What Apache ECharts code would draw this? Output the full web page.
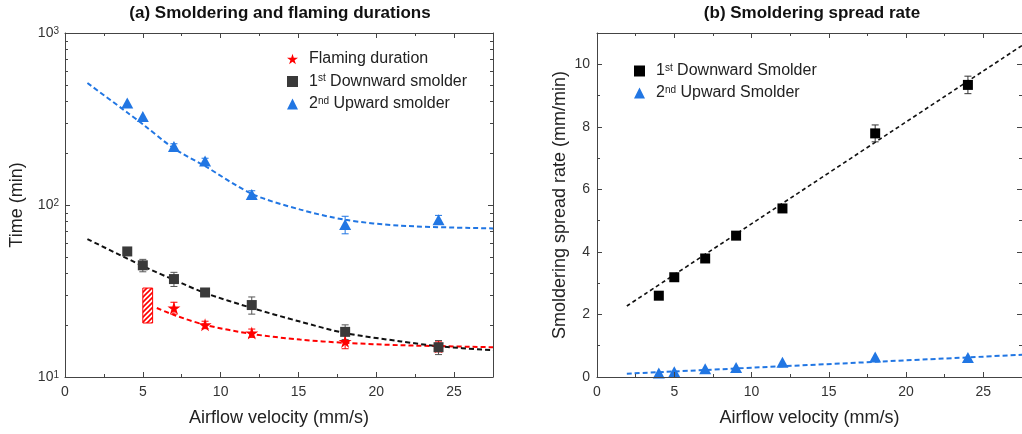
<!DOCTYPE html>
<html><head><meta charset="utf-8">
<script src="https://cdn.jsdelivr.net/npm/echarts@6/dist/echarts.min.js"></script>
<style>html,body{margin:0;padding:0;background:#fff}#c{width:1022px;height:434px}</style>
</head><body><div id="c"></div>
<script>
// ---------- data ----------
const velocity = [4, 5, 7, 9, 12, 18, 24];
const flamingX = [7, 9, 12, 18, 24];
const flamingTime = [25.2, 20.1, 18.0, 16.1, 15.0];
const flamingErr = [2.0, 1.0, 1.0, 1.5, 1.0];
const downTime = [53.7, 44.6, 37.1, 31.0, 26.2, 18.3, 14.9];
const downTimeErr = [0, 3.7, 3.5, 1.2, 3.0, 1.8, 1.4];
const upTime = [392, 327, 219, 180, 115, 77, 82];
const upTimeErr = [0, 0, 8, 7, 6, 9, 5];
const flameFitX = [5.9, 6.97, 9.0, 12.0, 15.1, 18.0, 21.6, 27.5];
const flameFitY = [25.2, 23.0, 20.1, 17.8, 16.5, 15.8, 15.3, 14.9];
const downFitX = [1.44, 5.04, 6.97, 9.0, 12.0, 15.1, 18.0, 21.6, 24, 27.5];
const downFitY = [63.4, 44, 36.8, 30.8, 25.2, 21.0, 18.0, 16.1, 15.1, 14.3];
const upFitX = [1.44, 4.0, 5.04, 6.97, 9.01, 12.02, 15.13, 18.03, 21.57, 27.5];
const upFitY = [512, 345, 293, 214, 168, 116, 94, 82, 75.8, 73.1];
const hatchBox = [5.0, 20.6, 5.63, 32.9];

const rateDown = [2.60, 3.19, 3.79, 4.52, 5.39, 7.79, 9.34];
const rateDownErr = [0.05, 0.05, 0.05, 0.05, 0.12, 0.27, 0.28];
const rateUp = [0.13, 0.17, 0.26, 0.30, 0.47, 0.64, 0.62];
const rateDownFitX = [1.93, 27.5];
const rateDownFitY = [2.27, 10.6];
const rateUpFitX = [1.93, 27.5];
const rateUpFitY = [0.105, 0.71];

const xMajor = [0, 5, 10, 15, 20, 25];
const xMinor = [2.5, 7.5, 12.5, 17.5, 22.5];
const logMajor = [10, 100, 1000];
const logMinor = [20, 30, 40, 50, 60, 70, 80, 90, 200, 300, 400, 500, 600, 700, 800, 900];
const rateMajor = [0, 2, 4, 6, 8, 10];
const rateMinor = [1, 3, 5, 7, 9];

const titleA = '(a) Smoldering and flaming durations';
const titleB = '(b) Smoldering spread rate';
const legendA = ['Flaming duration', '1st Downward smolder', '2nd Upward smolder'];
const legendB = ['1st Downward Smolder', '2nd Upward Smolder'];

// ---------- styles ----------
const BLUE = '#2176e3', RED = '#ff0000', DARK = '#3a3a3a', AX = '#444', LBL = '#333';
const FONT = "'Liberation Sans', Arial, sans-serif";
const STAR = 'path://M50,0 L61.2,34.5 L97.6,34.5 L68.2,55.9 L79.4,90.5 L50,69.1 L20.6,90.5 L31.8,55.9 L2.4,34.5 L38.8,34.5 Z';

const zip = (a, b) => a.map((v, i) => [v, b[i]]);
const errData = (xs, ys, es) => xs.map((x, i) => [x, ys[i] - es[i], ys[i] + es[i]]).filter((d, i) => es[i] > 0);

function errRender(color, cap) {
  return function (params, api) {
    const x = api.value(0), lo = api.value(1), hi = api.value(2);
    const p1 = api.coord([x, lo]), p2 = api.coord([x, hi]);
    const st = { stroke: color, lineWidth: 1 };
    return { type: 'group', children: [
      { type: 'line', shape: { x1: p1[0], y1: p1[1], x2: p2[0], y2: p2[1] }, style: st },
      { type: 'line', shape: { x1: p1[0] - cap, y1: p1[1], x2: p1[0] + cap, y2: p1[1] }, style: st },
      { type: 'line', shape: { x1: p2[0] - cap, y1: p2[1], x2: p2[0] + cap, y2: p2[1] }, style: st }
    ] };
  };
}

// hatch pattern
const pc = document.createElement('canvas');
pc.width = 5; pc.height = 5;
const g = pc.getContext('2d');
g.strokeStyle = RED; g.lineWidth = 1.6;
g.beginPath();
g.moveTo(-1, 6); g.lineTo(6, -1);
g.moveTo(-1, 1); g.lineTo(1, -1);
g.moveTo(4, 6); g.lineTo(6, 4);
g.stroke();

// ---------- axes ----------
function mkAxis(grid, pos, base, ticks, len, main) {
  return Object.assign({
    gridIndex: grid, position: pos,
    splitLine: { show: false },
    axisLine: { show: main, onZero: false, lineStyle: { color: AX, width: 1 } },
    axisTick: { show: true, inside: true, length: len, customValues: ticks, lineStyle: { color: AX } },
    axisLabel: { show: false },
    z: 5
  }, base);
}
const xBase = { type: 'value', min: 0, max: 27.5 };
const logBase = { type: 'log', logBase: 10, min: 10, max: 1000 };
const rateBase = { type: 'value', min: 0, max: 11 };
const nameStyle = { fontSize: 18, color: '#222', fontFamily: FONT };

const xAxes = [];
const yAxes = [];
[0, 1].forEach(gi => {
  const xl = mkAxis(gi, 'bottom', xBase, xMajor, 5, true);
  xl.axisLabel = { show: true, customValues: xMajor, fontSize: 14, color: LBL, margin: 8, fontFamily: FONT };
  xl.name = 'Airflow velocity (mm/s)';
  xl.nameLocation = 'middle';
  xl.nameGap = 32;
  xl.nameTextStyle = nameStyle;
  xAxes.push(xl);
  xAxes.push(mkAxis(gi, 'bottom', xBase, xMinor, 3, false));
  xAxes.push(mkAxis(gi, 'top', xBase, xMajor, 5, true));
  xAxes.push(mkAxis(gi, 'top', xBase, xMinor, 3, false));
});
// left grid y
const yl0 = mkAxis(0, 'left', logBase, logMajor, 5, true);
yl0.axisLabel = {
  show: true, customValues: logMajor, margin: 6, color: LBL, fontFamily: FONT,
  formatter: v => '{b|10}{s|' + Math.round(Math.log10(v)) + '}',
  rich: { b: { fontSize: 14, color: LBL, fontFamily: FONT }, s: { fontSize: 10, color: LBL, verticalAlign: 'top', fontFamily: FONT } }
};
yl0.name = 'Time (min)'; yl0.nameLocation = 'middle'; yl0.nameGap = 39;
yl0.nameTextStyle = nameStyle;
yAxes.push(yl0);
yAxes.push(mkAxis(0, 'left', logBase, logMinor, 3, false));
yAxes.push(mkAxis(0, 'right', logBase, logMajor, 5, true));
yAxes.push(mkAxis(0, 'right', logBase, logMinor, 3, false));
// right grid y
const yr0 = mkAxis(1, 'left', rateBase, rateMajor, 5, true);
yr0.axisLabel = { show: true, customValues: rateMajor, fontSize: 14, color: LBL, margin: 7, fontFamily: FONT };
yr0.name = 'Smoldering spread rate (mm/min)'; yr0.nameLocation = 'middle'; yr0.nameGap = 28;
yr0.nameTextStyle = nameStyle;
yAxes.push(yr0);
yAxes.push(mkAxis(1, 'left', rateBase, rateMinor, 3, false));
yAxes.push(mkAxis(1, 'right', rateBase, rateMajor, 5, true));
yAxes.push(mkAxis(1, 'right', rateBase, rateMinor, 3, false));

// ---------- series ----------
const fitLine = (name, xs, ys, color, xi, yi, width, dash) => ({
  name, type: 'line', xAxisIndex: xi, yAxisIndex: yi, data: zip(xs, ys), smooth: 0.3,
  showSymbol: false, symbol: 'none', silent: true, z: 2,
  lineStyle: { color, width, type: dash }
});
const errSeries = (data, color, xi, yi) => ({
  type: 'custom', xAxisIndex: xi, yAxisIndex: yi, data, renderItem: errRender(color, 3.5),
  encode: { x: 0, y: [1, 2] }, silent: true, z: 3
});
const scat = (name, xs, ys, color, symbol, size, xi, yi) => ({
  name, type: 'scatter', xAxisIndex: xi, yAxisIndex: yi, data: zip(xs, ys),
  symbol, symbolSize: size, itemStyle: { color, opacity: 1 }, z: 4
});

const series = [
  fitLine('fitFlame', flameFitX, flameFitY, RED, 0, 0, 2, [5, 3]),
  fitLine('fitDown', downFitX, downFitY, '#111', 0, 0, 2, [5, 3]),
  fitLine('fitUp', upFitX, upFitY, BLUE, 0, 0, 2, [5, 3]),
  {
    type: 'custom', xAxisIndex: 0, yAxisIndex: 0, data: [hatchBox], silent: true, z: 3,
    encode: { x: [0, 2], y: [1, 3] },
    renderItem: (params, api) => {
      const p1 = api.coord([api.value(0), api.value(3)]);
      const p2 = api.coord([api.value(2), api.value(1)]);
      return { type: 'rect', shape: { x: p1[0], y: p1[1], width: p2[0] - p1[0], height: p2[1] - p1[1] },
        style: { fill: { image: pc, repeat: 'repeat' }, stroke: RED, lineWidth: 1 } };
    }
  },
  errSeries(errData(flamingX, flamingTime, flamingErr), RED, 0, 0),
  errSeries(errData(velocity, downTime, downTimeErr), '#555', 0, 0),
  errSeries(errData(velocity, upTime, upTimeErr), BLUE, 0, 0),
  scat(legendA[0], flamingX, flamingTime, RED, STAR, 13, 0, 0),
  scat(legendA[1], velocity, downTime, DARK, 'rect', 10, 0, 0),
  scat(legendA[2], velocity, upTime, BLUE, 'triangle', [12, 11], 0, 0),

  fitLine('rfitDown', rateDownFitX, rateDownFitY, '#111', 4, 4, 1.6, [4, 3]),
  fitLine('rfitUp', rateUpFitX, rateUpFitY, BLUE, 4, 4, 2, [5, 3]),
  errSeries(errData(velocity, rateDown, rateDownErr), '#333', 4, 4),
  scat(legendB[0], velocity, rateDown, '#000', 'rect', 10, 4, 4),
  scat(legendB[1], velocity, rateUp, BLUE, 'triangle', [12, 11], 4, 4)
];

const legFmt = n => n.replace(/^(\d)(st|nd)/, '$1{s|$2}');
const legText = {
  fontSize: 16, color: '#222', fontFamily: FONT, padding: [0, 0, 0, 6],
  rich: { s: { fontSize: 10, color: '#222', verticalAlign: 'top', fontFamily: FONT } }
};

const chart = echarts.init(document.getElementById('c'), null, { renderer: 'canvas' });
chart.setOption({
  animation: false,
  backgroundColor: '#fff',
  grid: [
    { left: 65, top: 33, right: 529, bottom: 57 },
    { left: 597, top: 33, right: -3, bottom: 57 }
  ],
  xAxis: xAxes,
  yAxis: yAxes,
  legend: [
    { data: legendA, orient: 'vertical', left: 282, top: 46, itemWidth: 11, itemHeight: 11, itemGap: 6.5,
      formatter: legFmt, textStyle: legText, selectedMode: false },
    { data: legendB, orient: 'vertical', left: 629, top: 58, itemWidth: 11, itemHeight: 11, itemGap: 6,
      formatter: legFmt, textStyle: legText, selectedMode: false }
  ],
  graphic: [
    { type: 'text', x: 280, y: 13, style: { text: titleA, font: "bold 17px 'Liberation Sans', Arial, sans-serif", fill: '#111', textAlign: 'center', textVerticalAlign: 'middle' } },
    { type: 'text', x: 812, y: 13, style: { text: titleB, font: "bold 17px 'Liberation Sans', Arial, sans-serif", fill: '#111', textAlign: 'center', textVerticalAlign: 'middle' } }
  ],
  series
});
</script>
</body></html>
